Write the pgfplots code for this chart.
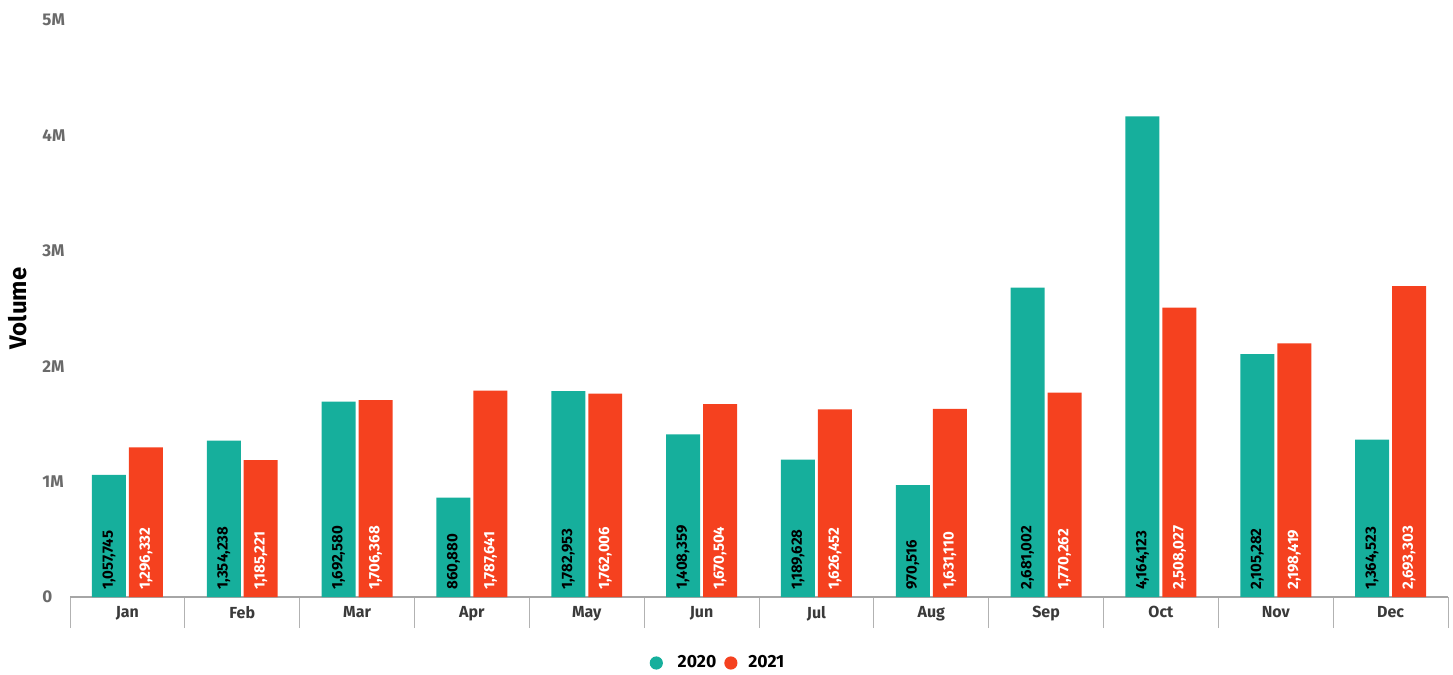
\documentclass[border=0pt]{standalone}
\usepackage{pgfplots}
\usepackage{pgfplotstable}
\pgfplotsset{compat=1.18}
\usepackage{fontspec}
\setmainfont{Fira Sans}
\definecolor{cA}{HTML}{16AF9C}
\definecolor{cB}{HTML}{F5411F}
\definecolor{tickgray}{HTML}{6A6A6A}
\definecolor{monthgray}{HTML}{3A3A3A}
\pgfplotstableread{
x m a b la lb
0 Jan 1057745 1296332 1,057,745 1,296,332
1 Feb 1354238 1185221 1,354,238 1,185,221
2 Mar 1692580 1706368 1,692,580 1,706,368
3 Apr 860880 1787641 860,880 1,787,641
4 May 1782953 1762006 1,782,953 1,762,006
5 Jun 1408359 1670504 1,408,359 1,670,504
6 Jul 1189628 1626452 1,189,628 1,626,452
7 Aug 970516 1631110 970,516 1,631,110
8 Sep 2681002 1770262 2,681,002 1,770,262
9 Oct 4164123 2508027 4,164,123 2,508,027
10 Nov 2105282 2198419 2,105,282 2,198,419
11 Dec 1364523 2693303 1,364,523 2,693,303
}\data
\begin{document}
\begin{tikzpicture}
\begin{axis}[
  name=ax,
  scale only axis,
  width=689pt, height=288.5pt,
  xmin=-0.5, xmax=11.5,
  ymin=0, ymax=5000000,
  axis x line*=bottom,
  axis y line*=left,
  y axis line style={draw=none},
  x axis line style={draw=gray!70, line width=0.6pt},
  xtick={0,...,11},
  xticklabels={Jan,Feb,Mar,Apr,May,Jun,Jul,Aug,Sep,Oct,Nov,Dec},
  minor xtick={-0.5,0.5,...,11.5},
  major tick length=0pt,
  minor tick length=15.5pt,
  tick align=outside,
  minor x tick style={draw=gray!60, line width=0.5pt},
  xticklabel style={font=\fontsize{8}{9}\selectfont\bfseries, text=monthgray, yshift=-1pt},
  ytick={0,1000000,2000000,3000000,4000000,5000000},
  yticklabels={0,1M,2M,3M,4M,5M},
  scaled y ticks=false,
  ytick style={draw=none},
  yticklabel style={font=\fontsize{8.5}{9}\selectfont\bfseries, text=tickgray, anchor=west, xshift=-14pt, inner sep=0pt},
  ylabel={Volume},
  every axis y label/.style={at={([xshift=-26pt]rel axis cs:0,0.5)}, rotate=90, anchor=center, font=\fontsize{12}{13}\selectfont\bfseries, text=black},
  legend style={legend columns=2, draw=none, fill=none, at={(rel axis cs:0.471,0)}, anchor=center, yshift=-33pt,
    font=\fontsize{8.8}{9}\selectfont\bfseries, text=black,
    /tikz/every even column/.append style={column sep=2pt}},
  clip=false,
]
\addplot[ybar, bar width=0.296, bar shift=-0.161, fill=cA, draw=none,
  legend image code/.code={\fill[cA] (3.3pt,0pt) circle (3.3pt); \path (12pt,0pt);}]
  table[x=x, y=a] {\data};
\addlegendentry{2020}
\addplot[ybar, bar width=0.296, bar shift=0.161, fill=cB, draw=none,
  legend image code/.code={\fill[cB] (3.3pt,0pt) circle (3.3pt); \path (10pt,0pt);}]
  table[x=x, y=b] {\data};
\addlegendentry{2021}
\addplot[draw=none, mark=none, forget plot, point meta=explicit symbolic,
  nodes near coords={\pgfplotspointmeta},
  nodes near coords style={rotate=90, anchor=west, inner sep=0pt, inner xsep=3.5pt, text=black, font=\fontsize{7.5}{8}\selectfont\bfseries}]
  table[x expr=\thisrow{x}-0.161, y expr=0, meta=la] {\data};
\addplot[draw=none, mark=none, forget plot, point meta=explicit symbolic,
  nodes near coords={\pgfplotspointmeta},
  nodes near coords style={rotate=90, anchor=west, inner sep=0pt, inner xsep=3.5pt, text=white, font=\fontsize{7.5}{8}\selectfont\bfseries}]
  table[x expr=\thisrow{x}+0.161, y expr=0, meta=lb] {\data};
\end{axis}
\pgfresetboundingbox
\path ([shift={(-35pt,-38.5pt)}]ax.south west) rectangle ([shift={(2.5pt,10pt)}]ax.north east);
\end{tikzpicture}
\end{document}
